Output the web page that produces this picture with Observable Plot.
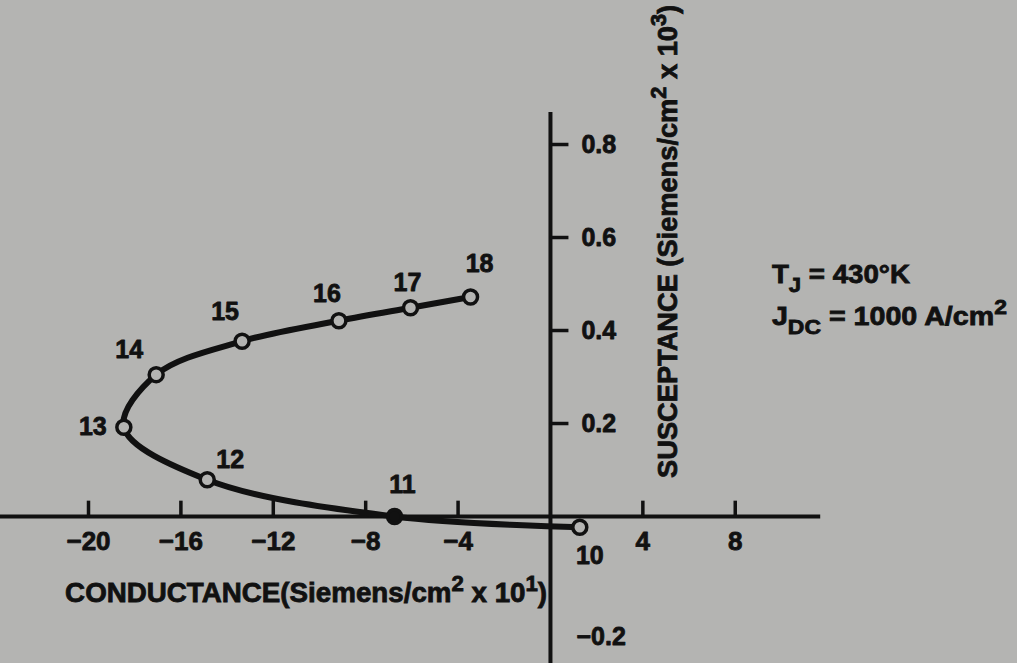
<!DOCTYPE html>
<html><head><meta charset="utf-8">
<script src="https://cdn.jsdelivr.net/npm/d3@7"></script>
<script src="https://cdn.jsdelivr.net/npm/@observablehq/plot@0.6"></script>
<style>
html,body{margin:0;padding:0;background:#b4b4b2;overflow:hidden;}
#chart svg{display:block;}
</style></head><body><div id="chart"></div>
<script>
// ---- data ----
const pointLabels = ["10", "11", "12", "13", "14", "15", "16", "17", "18"];
const conductance = [1.27, -6.75, -14.86, -18.47, -17.07, -13.35, -9.16, -6.06, -3.46];
const susceptance = [-0.023, 0.0, 0.079, 0.192, 0.305, 0.377, 0.421, 0.449, 0.472];
const xTickValues = [-20, -16, -12, -8, -4, 4, 8];
const yTickValues = [0.2, 0.4, 0.6, 0.8];
const yExtraLabel = [-0.2];
const xTitle = [["CONDUCTANCE(Siemens/cm", ""], ["2", "sup"], [" x 10", ""], ["1", "sup"], [")", ""]];
const yTitle = [["SUSCEPTANCE (Siemens/cm", ""], ["2", "sup"], [" x 10", ""], ["3", "sup"], [")", ""]];
const noteLine1 = [["T", ""], ["J", "sub"], [" = 430°K", ""]];
const noteLine2 = [["J", ""], ["DC", "sub"], [" = 1000 A/cm", ""], ["2", "sup"]];

const data = pointLabels.map((l, i) => ({label: l, g: conductance[i], b: susceptance[i]}));

// ---- styling / layout ----
const INK = "#111";
const BG = "#b4b4b2";
const FONT = "Liberation Sans, Arial, sans-serif";
const HEAVY = 0.8; // extra stroke to thicken the bold type
const labelOffsets = {
  "10": [10, 29], "11": [8, -32], "12": [23, -20], "13": [-31, 0], "14": [-27, -25],
  "15": [-17, -29], "16": [-12, -27], "17": [-3, -25], "18": [9, -33]
};
const textStyle = {fontWeight: "bold", fill: INK, stroke: INK, strokeWidth: HEAVY};

const chart = Plot.plot({
  width: 1017,
  height: 663,
  margin: 0,
  x: {domain: [-23.81, 20.22], axis: null},
  y: {domain: [-0.3161, 1.1097], axis: null},
  style: {background: BG, fontFamily: FONT},
  marks: [
    // axes through the origin
    Plot.ruleY([0], {x1: -23.81, x2: 11.7, stroke: INK, strokeWidth: 4}),
    Plot.ruleX([0], {y1: -0.32, y2: 0.869, stroke: INK, strokeWidth: 4}),
    // x ticks (upward) and labels
    Plot.ruleX(xTickValues, {y1: 0, y2: 0.033, stroke: INK, strokeWidth: 3.5}),
    Plot.text(xTickValues, {x: d => d, y: 0, dy: 25, text: d => (d < 0 ? "−" + Math.abs(d) : String(d)),
      fontSize: 26, ...textStyle}),
    // y ticks (rightward) and labels
    Plot.ruleY(yTickValues, {x1: 0, x2: 0.8, stroke: INK, strokeWidth: 3.5}),
    Plot.text(yTickValues, {x: 0, y: d => d, dx: 31, text: d => d.toFixed(1), textAnchor: "start",
      fontSize: 25, ...textStyle}),
    Plot.text(yExtraLabel, {x: 0, y: d => d, dx: 26, dy: 27, text: d => "−" + Math.abs(d).toFixed(1),
      textAnchor: "start", fontSize: 25, ...textStyle}),
    // curve
    Plot.line(data, {x: "g", y: "b", curve: "catmull-rom", stroke: INK, strokeWidth: 6}),
    Plot.dot(data, {x: "g", y: "b", r: 7, stroke: INK, strokeWidth: 3.5,
      fill: d => (d.label === "11" ? INK : BG)}),
    ...data.map(d => Plot.text([d], {x: "g", y: "b", text: "label",
      dx: labelOffsets[d.label][0], dy: labelOffsets[d.label][1],
      fontSize: 25, ...textStyle}))
  ]
});
document.getElementById("chart").append(chart);

// ---- rich text (super/subscripts) positioned with the chart's scales ----
const sx = chart.scale("x"), sy = chart.scale("y");
const svg = d3.select(chart);
function rich(parts, x, y, opts) {
  const t = svg.append("text")
    .attr("font-family", FONT).attr("font-weight", "bold")
    .attr("font-size", opts.size).attr("fill", INK)
    .attr("stroke", INK).attr("stroke-width", HEAVY).attr("paint-order", "stroke")
    .attr("text-anchor", "start");
  if (opts.rotate) t.attr("transform", `translate(${x},${y}) rotate(-90)`);
  else t.attr("x", x).attr("y", y);
  if (opts.length) t.attr("textLength", opts.length).attr("lengthAdjust", "spacingAndGlyphs");
  let shift = 0;
  for (const [s, kind] of parts) {
    const sp = t.append("tspan").text(s);
    const target = kind === "sup" ? -opts.size * 0.4 : kind === "sub" ? opts.size * 0.35 : 0;
    if (target !== shift) { sp.attr("dy", target - shift); shift = target; }
    if (kind) sp.attr("font-size", opts.size * 0.8);
  }
  return t;
}
rich(xTitle, sx.apply(-20.99), sy.apply(-0.185), {size: 27, length: 482});
rich(yTitle, sx.apply(5.5), sy.apply(0.082), {size: 28, rotate: true, length: 473});
rich(noteLine1, sx.apply(9.61), sy.apply(0.501), {size: 26, length: 138});
rich(noteLine2, sx.apply(9.61), sy.apply(0.411), {size: 26, length: 235});
</script>
</body></html>
